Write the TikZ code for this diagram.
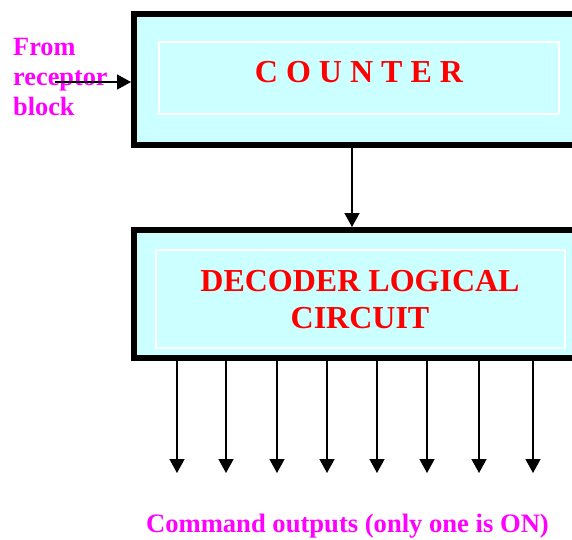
\documentclass[tikz,border=0pt]{standalone}
\usepackage{fontspec}
\setmainfont{Liberation Serif}
\usetikzlibrary{arrows.meta,calc}
\definecolor{boxfill}{HTML}{CCFFFF}
\definecolor{mag}{HTML}{FF00FF}
\definecolor{rd}{HTML}{FF0000}
\begin{document}
\begin{tikzpicture}[x=1pt,y=-1pt,
  block/.style={draw=black, line width=6pt, fill=boxfill, rectangle, inner sep=0},
  innerbox/.style={draw=white, line width=1.5pt, rectangle, inner sep=0},
  lbl/.style={text=rd, font=\fontsize{32}{37}\selectfont\bfseries, align=center, inner sep=0},
  side/.style={text=mag, font=\fontsize{26.3}{30}\selectfont\bfseries, inner sep=0},
  conn/.style={line width=1.5pt, -{Triangle[length=14pt,width=15pt]}}]
\clip (0,0) rectangle (572,539);
\node[block, minimum width=456pt, minimum height=130.5pt] (counter) at (362,79.25) {};
\node[innerbox, minimum width=400pt, minimum height=72pt] (cin) at (359,78) {};
\node[lbl] (ctext) at (359,72) {C O U N T E R};
\node[block, minimum width=456pt, minimum height=128pt] (decoder) at (362,294) {};
\node[innerbox, minimum width=409pt, minimum height=98pt] (din) at (360.5,299) {};
\node[lbl] (dtext) at (360,299.5) {DECODER LOGICAL\\CIRCUIT};
\draw[conn] ([xshift=-10pt]counter.south) -- ([xshift=-10pt]decoder.north);
\foreach \i/\x in {1/177,2/226,3/277,4/327,5/377,6/427,7/479,8/533}{
  \coordinate (o\i) at (\x,473);
  \draw[conn] (decoder.south -| o\i) -- (o\i);
}
\node[side, anchor=north west, align=left] (from) at (13,38.5) {From\\receptor\\block};
\coordinate (fromstart) at (55,82);
\draw[conn] (fromstart) -- (counter.west |- fromstart);
\node[side, anchor=base, font=\fontsize{26.6}{30}\selectfont\bfseries] (cmd) at (347.5,532.5) {Command outputs (only one is ON)};
\end{tikzpicture}
\end{document}
